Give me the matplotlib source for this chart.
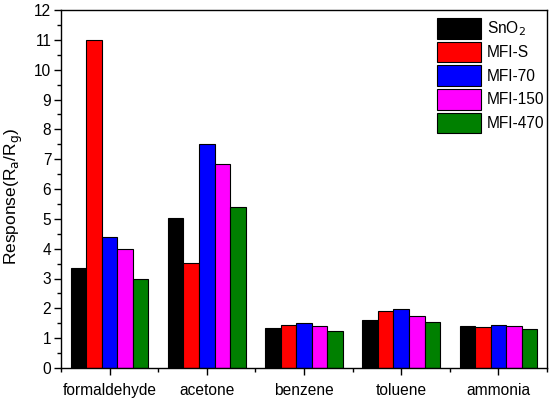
import numpy as np
import matplotlib.pyplot as plt
from matplotlib.ticker import MultipleLocator

plt.rcParams['font.family'] = ['Liberation Sans', 'DejaVu Sans']

gases = ['formaldehyde', 'acetone', 'benzene', 'toluene', 'ammonia']
labels = ['SnO$_2$', 'MFI-S', 'MFI-70', 'MFI-150', 'MFI-470']
colors = ['black', 'red', 'blue', 'magenta', 'green']

sno2 = [3.35, 5.03, 1.35, 1.62, 1.42]
mfi_s = [11.0, 3.51, 1.43, 1.90, 1.36]
mfi_70 = [4.38, 7.51, 1.51, 1.97, 1.43]
mfi_150 = [3.98, 6.83, 1.41, 1.73, 1.40]
mfi_470 = [2.97, 5.40, 1.23, 1.54, 1.32]

series = [sno2, mfi_s, mfi_70, mfi_150, mfi_470]

fig = plt.figure(figsize=(5.5, 3.98), dpi=100)
ax = fig.add_axes([61 / 550, 30 / 398, 486 / 550, 358 / 398])

x = np.arange(len(gases))
w = 0.16
for i, vals in enumerate(series):
    ax.bar(x + (i - 2) * w, vals, w, color=colors[i], edgecolor='black',
           linewidth=0.8, label=labels[i])

ax.set_xlim(-0.5, 4.5)
ax.set_ylim(0, 12)
ax.set_xticks(x)
ax.set_xticklabels(gases)
ax.xaxis.set_minor_locator(MultipleLocator(1, offset=0.5))
ax.yaxis.set_major_locator(MultipleLocator(1))
ax.yaxis.set_minor_locator(MultipleLocator(0.5))
ax.tick_params(which='both', direction='out', top=False, right=False,
               labelsize=11.2, width=1)
ax.tick_params(which='major', length=5)
ax.tick_params(which='minor', length=3)
ax.tick_params(axis='x', pad=6)
ax.tick_params(axis='y', pad=2)
for s in ax.spines.values():
    s.set_linewidth(1)

ax.set_ylabel(r'Response(R$_\mathrm{a}$/R$_\mathrm{g}$)', fontsize=12.5)
ax.yaxis.set_label_coords(-0.074, 0.48)

ax.legend(loc='upper right', bbox_to_anchor=(1.0, 0.984), frameon=False,
          fontsize=11.2, handlelength=2.85, handleheight=1.645,
          labelspacing=0.21, handletextpad=0.4, borderaxespad=0,
          borderpad=0.15)

fig.savefig('out.png', dpi=100)
